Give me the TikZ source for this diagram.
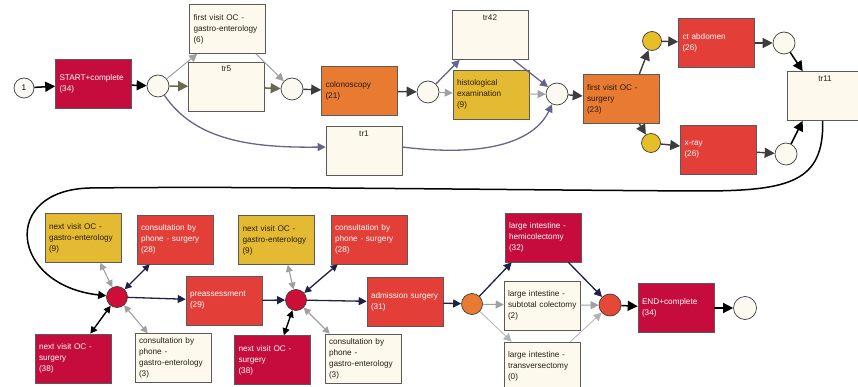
\documentclass[tikz,border=0pt]{standalone}
\usepackage{fontspec}
\newfontfamily\lab{Liberation Sans}
\usetikzlibrary{arrows.meta}
\definecolor{crimson}{RGB}{198,12,60}
\definecolor{redb}{RGB}{228,62,56}
\definecolor{orangeb}{RGB}{232,122,50}
\definecolor{yellowb}{RGB}{228,186,50}
\definecolor{creamb}{RGB}{253,249,236}
\definecolor{creamc}{RGB}{252,250,240}
\definecolor{yellowc}{RGB}{230,190,40}
\definecolor{crimc}{RGB}{205,15,55}
\definecolor{redc}{RGB}{230,72,55}
\definecolor{boxline}{RGB}{90,90,90}
\definecolor{dkg}{RGB}{60,60,60}
\definecolor{olive}{RGB}{105,105,80}
\definecolor{bluegray}{RGB}{100,100,140}
\definecolor{lgray}{RGB}{160,160,160}
\definecolor{navy}{RGB}{30,32,70}
\definecolor{textdk}{RGB}{40,30,20}
\tikzset{
  bx/.style={draw=boxline, line width=0.6pt, minimum width=76pt, minimum height=49pt,
    inner xsep=4pt, inner ysep=0pt, text width=68pt, align=left,
    font=\lab\fontsize{8.2}{11}\selectfont},
  bxcrim/.style={bx, fill=crimson, text=white},
  bxred/.style={bx, fill=redb, text=white},
  bxor/.style={bx, fill=orangeb, text=textdk},
  bxyel/.style={bx, fill=yellowb, text=textdk},
  bxcr/.style={bx, fill=creamb, text=textdk},
  trbox/.style={draw=boxline, line width=0.6pt, fill=creamb, inner sep=4pt, text=textdk,
    font=\lab\fontsize{8.2}{11}\selectfont},
  plc/.style={circle, draw=dkg, line width=0.7pt, fill=creamc, minimum size=22pt, inner sep=0pt,
    font=\lab\fontsize{8.2}{10}\selectfont},
  tipb/.tip={Triangle[length=10pt,width=10pt]},
  tips/.tip={Triangle[length=8pt,width=8pt]},
  tipd/.tip={Triangle[length=7pt,width=7pt]},
  ablk/.style={draw=black, line width=1.5pt, -tipb},
  adk/.style={draw=dkg, line width=1.4pt, -tipb},
  aolive/.style={draw=olive, line width=1.5pt, -tipb},
  ablue/.style={draw=bluegray, line width=1.3pt, -tips},
  agray/.style={draw=lgray, line width=1pt, -tips},
  alg/.style={draw=lgray!80, line width=0.8pt, -tips},
  anavy/.style={draw=navy, line width=1.3pt, -tips},
  abig/.style={draw=black, line width=1.5pt, -tips},
  dnavy/.style={draw=navy, line width=1.3pt, tipd-tipd},
  dblk/.style={draw=black, line width=1.4pt, tipd-tipd},
  dgray/.style={draw=lgray, line width=1.1pt, tipd-tipd},
}
\newcommand\trtxt[1]{\parbox[c][41pt][t]{68pt}{\centering #1}}
\begin{document}
\begin{tikzpicture}[x=1pt,y=-1pt]
\useasboundingbox (0,0) rectangle (858,387);
% ---- top row places
\node[plc, minimum size=20pt] (one) at (24,88) {1};
\node[plc] (Ca) at (158,86) {};
\node[plc] (Cb) at (292,89) {};
\node[plc] (Cc) at (428,92) {};
\node[plc] (Cd) at (557,94) {};
\node[plc, fill=yellowc, minimum size=19pt] (Ye1) at (652,41) {};
\node[plc, fill=yellowc, minimum size=19pt] (Ye2) at (651,143) {};
\node[plc] (Cct) at (784,43) {};
\node[plc] (Cx) at (786,154) {};
% ---- top row boxes
\node[bxcrim] (start) at (93.5,84) {START+complete\\(34)};
\node[bxcr] (fvg) at (227.5,29) {first visit OC -\\gastro-enterology\\(6)};
\node[trbox] (tr5) at (226.5,86.5) {\trtxt{tr5}};
\node[bxor] (colo) at (359.5,91) {colonoscopy\\(21)};
\node[trbox] (tr1) at (364,151) {\trtxt{tr1}};
\node[trbox] (tr42) at (490,35) {\trtxt{tr42}};
\node[bxyel] (hist) at (491,94.5) {histological\\examination\\(9)};
\node[bxor] (fvs) at (621,99) {first visit OC -\\surgery\\(23)};
\node[bxred] (ct) at (716.5,43) {ct abdomen\\(26)};
\node[bxred] (xray) at (718.5,150) {x-ray\\(26)};
\node[trbox] (tr11) at (825,96) {\trtxt{tr11}};
% ---- bottom row places
\node[plc, fill=crimc, minimum size=21pt] (C1) at (117,297) {};
\node[plc, fill=crimc, minimum size=21pt] (C2) at (296,300) {};
\node[plc, fill=orangeb, minimum size=21pt] (O) at (472,304) {};
\node[plc, fill=redc] (C3) at (610,305) {};
\node[plc, minimum size=23pt] (Cend) at (745,308) {};
% ---- bottom row boxes
\node[bxyel] (ng1) at (83,238) {next visit OC -\\gastro-enterology\\(9)};
\node[bxred] (cs1) at (175,239.5) {consultation by\\phone - surgery\\(28)};
\node[bxred] (pre) at (224,300.5) {preassessment\\(29)};
\node[bxcrim] (ns1) at (73,358.5) {next visit OC -\\surgery\\(38)};
\node[bxcr] (cg1) at (173,358) {consultation by\\phone -\\gastro-enterology\\(3)};
\node[bxyel] (ng2) at (276.5,240) {next visit OC -\\gastro-enterology\\(9)};
\node[bxred] (cs2) at (369,239.5) {consultation by\\phone - surgery\\(28)};
\node[bxred] (adm) at (405,302) {admission surgery\\(31)};
\node[bxcrim] (ns2) at (272.5,360) {next visit OC -\\surgery\\(38)};
\node[bxcr] (cg2) at (363,358.5) {consultation by\\phone -\\gastro-enterology\\(3)};
\node[bxcrim] (hemi) at (543,237.5) {large intestine -\\hemicolectomy\\(32)};
\node[bxcr] (sub) at (542,305.5) {large intestine -\\\mbox{subtotal colectomy}\\(2)};
\node[bxcr] (trans) at (542,366.5) {large intestine -\\transversectomy\\(0)};
\node[bxcrim] (endb) at (676,308) {END+complete\\(34)};
% ---- top connectors
\draw[ablk] (one) -- (start);
\draw[ablk] (start) -- (Ca);
\draw[aolive] (Ca) -- (tr5);
\draw[agray] (Ca) -- ([xshift=8pt]fvg.south west);
\draw[agray] ([xshift=-10pt]fvg.south east) -- (Cb);
\draw[aolive] (tr5) -- (Cb);
\draw[adk] (Cb) -- (colo);
\draw[adk] (colo) -- (Cc);
\draw[ablue] (Cc) -- ([xshift=8pt]tr42.south west);
\draw[agray] (Cc) -- (hist);
\draw[ablue] ([xshift=-15pt]tr42.south east) -- (Cd);
\draw[agray] (hist) -- (Cd);
\draw[ablue] (Ca) .. controls (195,140) and (250,148) .. ([yshift=4pt]tr1.west);
\draw[ablue] ([yshift=4pt]tr1.east) .. controls (490,158) and (535,140) .. (Cd);
\draw[adk] (Cd) -- (fvs);
\draw[adk] ([xshift=-20pt]fvs.north east) -- (Ye1);
\draw[adk] (Ye1) -- (ct);
\draw[adk] (ct) -- (Cct);
\draw[ablk] (Cct) -- ([xshift=16pt]tr11.north west);
\draw[adk] ([xshift=-20pt]fvs.south east) -- (Ye2);
\draw[adk] (Ye2) -- (xray);
\draw[adk] (xray) -- (Cx);
\draw[ablk] (Cx) -- ([xshift=16pt]tr11.south west);
\draw[abig] ([xshift=36pt]tr11.south west) .. controls (824,182) and (790,191) .. (700,191)
   .. controls (500,190) and (250,186) .. (90,188) .. controls (0,190) and (10,285) .. (C1);
% ---- bottom connectors
\draw[anavy] (C1) -- (pre);
\draw[dgray] ([xshift=-21pt]ng1.south east) -- (C1);
\draw[dnavy] ([xshift=13pt]cs1.south west) -- (C1);
\draw[dblk] ([xshift=-21pt]ns1.north east) -- (C1);
\draw[dgray] ([xshift=13pt]cg1.north west) -- (C1);
\draw[anavy] (pre) -- (C2);
\draw[dgray] ([xshift=-27pt]ng2.south east) -- (C2);
\draw[dnavy] ([xshift=7pt]cs2.south west) -- (C2);
\draw[dblk] ([xshift=-27pt]ns2.north east) -- (C2);
\draw[dgray] ([xshift=5pt]cg2.north west) -- (C2);
\draw[anavy] (C2) -- (adm);
\draw[anavy] (adm) -- (O);
\draw[anavy] (O) -- ([xshift=7pt]hemi.south west);
\draw[agray] (O) -- (sub);
\draw[alg] (O) -- ([xshift=8pt]trans.north west);
\draw[anavy] ([xshift=-13pt]hemi.south east) -- (C3);
\draw[agray] (sub) -- (C3);
\draw[alg] ([xshift=-10pt]trans.north east) -- (C3);
\draw[ablk] (C3) -- (endb);
\draw[ablk] (endb) -- (Cend);
\end{tikzpicture}
\end{document}
